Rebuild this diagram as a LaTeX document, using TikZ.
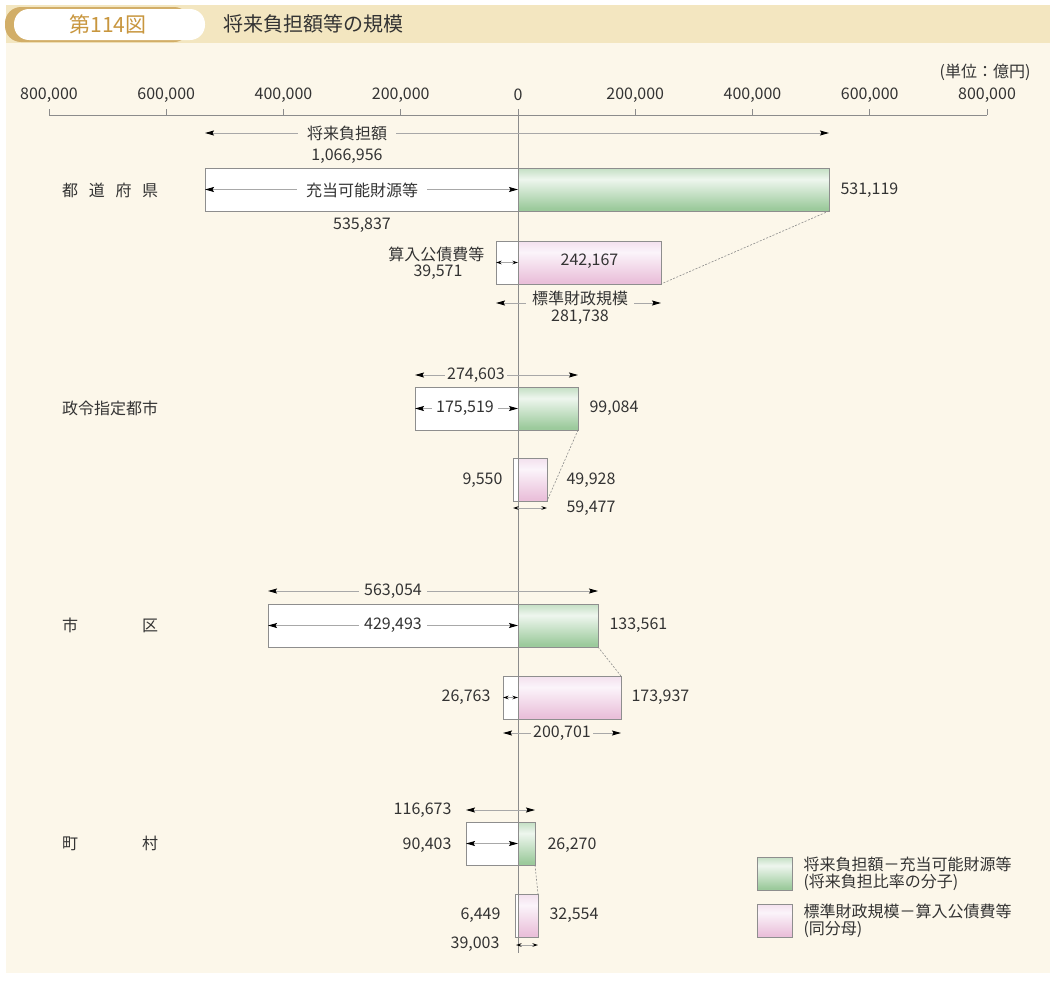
\documentclass[tikz,border=0pt]{standalone}
\usepackage{fontspec}
\setmainfont{Noto Sans CJK JP}
\usetikzlibrary{arrows.meta}
\definecolor{cream}{HTML}{FCF7EA}
\definecolor{hdrband}{HTML}{F3E6C0}
\definecolor{goldtxt}{HTML}{C8963E}
\definecolor{goldedge}{HTML}{D2AE68}
\definecolor{inkgray}{HTML}{333333}
\definecolor{axisgray}{HTML}{8C8C8C}
\definecolor{barline}{HTML}{8E8E8E}
\definecolor{dimgray}{HTML}{A8A8A8}
\definecolor{greendark}{HTML}{9CCA9C}
\definecolor{greenlight}{HTML}{EEF6EE}
\definecolor{greentop}{HTML}{C3DFC3}
\definecolor{pinkdark}{HTML}{EAC0DA}
\definecolor{pinklight}{HTML}{FBF4FA}
\definecolor{pinktop}{HTML}{F3E0EE}
\pgfdeclareverticalshading{greenbar}{100bp}{color(0bp)=(greendark); color(28bp)=(greendark); color(62bp)=(greenlight); color(75bp)=(greentop); color(100bp)=(greentop)}
\pgfdeclareverticalshading{pinkbar}{100bp}{color(0bp)=(pinkdark); color(28bp)=(pinkdark); color(62bp)=(pinklight); color(75bp)=(pinktop); color(100bp)=(pinktop)}

\begin{document}
\begin{tikzpicture}[x=1pt,y=-1pt,>={Stealth[length=9pt,width=5pt,inset=1.5pt,black]},
    every node/.style={font=\fontsize{16}{17}\selectfont,text=inkgray},
    bar/.style={draw=barline,line width=0.8pt,inner sep=0pt,outer sep=0pt,minimum height=43pt},
    white bar/.style={bar,fill=white,anchor=north east},
    green bar/.style={bar,shade,shading=greenbar,anchor=north west},
    pink bar/.style={bar,shade,shading=pinkbar,anchor=north west},
    dim line/.style={draw=dimgray,line width=0.9pt,<->},
    short dim/.style={draw=dimgray,line width=0.9pt,{Stealth[length=5.5pt,width=3.5pt,black]}-{Stealth[length=5.5pt,width=3.5pt,black]}},
    link/.style={draw=axisgray,line width=0.6pt,dash pattern=on 2pt off 1.5pt},
    on cream/.style={fill=cream,inner xsep=5pt,inner ysep=1pt},
    on white/.style={fill=white,inner xsep=5pt,inner ysep=1pt},
    row label/.style={anchor=west,inner xsep=0pt}]
  \useasboundingbox (0,0) rectangle (1056,980);
  \fill[hdrband] (6,5) rectangle (1050,43);
  \fill[goldedge,rounded corners=16pt] (5,7) rectangle (190,42);
  \fill[white,rounded corners=15pt] (14,9) rectangle (205,40);
  \node[font=\fontsize{21}{22}\selectfont,text=goldtxt] (ttl) at (108,24) {第114図};
  \node[font=\fontsize{20}{21}\selectfont,anchor=west] (ttl2) at (220,24) {将来負担額等の規模};
  \fill[cream] (6,43) rectangle (1050,973);
  \node[anchor=east] (unit) at (1034,72) {(単位：億円)};

  \draw[axisgray,line width=0.8pt] (49,115) -- (987,115);
  \foreach \i/\lab in {-4/{800,000},-3/{600,000},-2/{400,000},-1/{200,000},0/0,1/{200,000},2/{400,000},3/{600,000},4/{800,000}}{
    \node (tk\i) at (518+117.25*\i,95) {\lab};
    \draw[axisgray,line width=0.8pt] (518+117.25*\i,115) -- (518+117.25*\i,109);
  }

  \foreach \n/\gy/\py/\ww/\gw/\pww/\pw/\an in {1/168/241/313/311/22/143/south east,
      2/387/458/103/60/5/29/south east,3/604/676/250/80/15/103/north east,
      4/822/894/52/17/3/20/north east}{
    \node[white bar,minimum width=\ww pt] (w\n) at (518,\gy) {};
    \node[green bar,minimum width=\gw pt] (g\n) at (518,\gy) {};
    \node[white bar,minimum width=\pww pt] (pw\n) at (518,\py) {};
    \node[pink bar,minimum width=\pw pt] (p\n) at (518,\py) {};
    \draw[link] (g\n.south east) -- (p\n.\an);
  }
  \draw[axisgray,line width=0.8pt] (518,109) -- (518,953);

  \coordinate (t1l) at (205,133); \coordinate (t1r) at (829,133);
  \draw[dim line] (t1l) -- (t1r);
  \node[on cream,inner xsep=9pt] (n1t) at (347,133) {将来負担額};
  \node (n1v) at (347,156) {1,066,956};
  \draw[dim line] (w1.west) -- (w1.east);
  \node[on white,inner xsep=9pt] (n1a) at (362,190) {充当可能財源等};
  \node (n1b) at (362,225) {535,837};
  \node[anchor=west] (n1g) at (837,190) {531,119};
  \draw[short dim] (pw1.west) -- (pw1.east);
  \node (n1p) at ([yshift=1pt]p1.center) {242,167};
  \node[anchor=east] (n1s) at (488,254) {算入公債費等};
  \node (n1sv) at (438,272) {39,571};
  \coordinate (b1l) at (496,303); \coordinate (b1r) at (661,303);
  \draw[dim line] (b1l) -- (b1r);
  \node[on cream,inner xsep=6pt] (n1h) at (580,298) {標準財政規模};
  \node (n1hv) at (580,317) {281,738};
  \node[row label] (r1) at (62,190) {\makebox[96pt]{都\hfill 道\hfill 府\hfill 県}};

  \coordinate (t2l) at (415,375); \coordinate (t2r) at (578,375);
  \draw[dim line] (t2l) -- (t2r);
  \node[on cream,inner xsep=2pt] (n2t) at (476,375) {274,603};
  \draw[dim line] (w2.west) -- (w2.east);
  \node[on white,inner xsep=4pt] (n2a) at (465,408) {175,519};
  \node[anchor=west] (n2g) at (586,408) {99,084};
  \node[anchor=east] (n2s) at (506,480) {9,550};
  \node[anchor=west] (n2p) at (563,480) {49,928};
  \coordinate (b2l) at (513,508); \coordinate (b2r) at (547,508);
  \draw[short dim] (b2l) -- (b2r);
  \node[anchor=west] (n2h) at (563,508) {59,477};
  \node[row label] (r2) at (62,408) {政令指定都市};

  \coordinate (t3l) at (268,591); \coordinate (t3r) at (598,591);
  \draw[dim line] (t3l) -- (t3r);
  \node[on cream] (n3t) at (393,591) {563,054};
  \draw[dim line] (w3.west) -- (w3.east);
  \node[on white] (n3a) at (393,625) {429,493};
  \node[anchor=west] (n3g) at (606,625) {133,561};
  \draw[short dim] (pw3.west) -- (pw3.east);
  \node[anchor=east] (n3s) at (494,697) {26,763};
  \node[anchor=west] (n3p) at (628,697) {173,937};
  \coordinate (b3l) at (503,733); \coordinate (b3r) at (621,733);
  \draw[dim line] (b3l) -- (b3r);
  \node[on cream,inner xsep=2pt] (n3h) at (562,733) {200,701};
  \node[row label] (r3) at (62,625) {\makebox[96pt]{市\hfill 区}};

  \coordinate (t4l) at (466,810); \coordinate (t4r) at (535,810);
  \draw[dim line] (t4l) -- (t4r);
  \node[anchor=east] (n4t) at (455,810) {116,673};
  \draw[dim line] (w4.west) -- (w4.east);
  \node[anchor=east] (n4a) at (455,845) {90,403};
  \node[anchor=west] (n4g) at (544,845) {26,270};
  \node[anchor=east] (n4s) at (504,915) {6,449};
  \node[anchor=west] (n4p) at (546,915) {32,554};
  \coordinate (b4l) at (516,945); \coordinate (b4r) at (538,945);
  \draw[short dim] (b4l) -- (b4r);
  \node[anchor=east] (n4h) at (503,944) {39,003};
  \node[row label] (r4) at (62,843) {\makebox[96pt]{町\hfill 村}};

  \node[bar,shade,shading=greenbar,minimum width=35pt,minimum height=33pt,anchor=north west] (lg1) at (757,857) {};
  \node[anchor=west,align=left] (lt1) at ([xshift=8pt]lg1.east) {将来負担額－充当可能財源等\\(将来負担比率の分子)};
  \node[bar,shade,shading=pinkbar,minimum width=35pt,minimum height=33pt,anchor=north west] (lg2) at (757,904) {};
  \node[anchor=west,align=left] (lt2) at ([xshift=8pt]lg2.east) {標準財政規模－算入公債費等\\(同分母)};
\end{tikzpicture}
\end{document}
